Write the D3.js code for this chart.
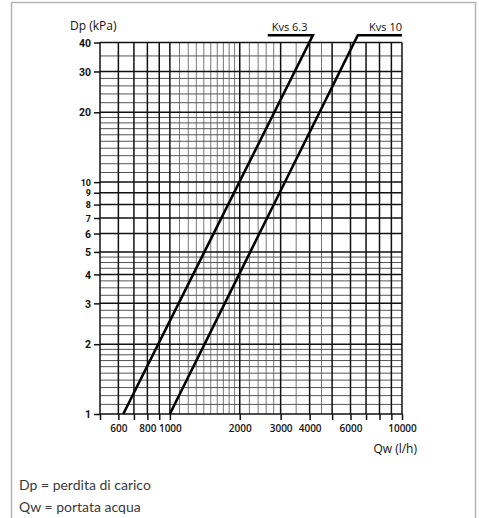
<!DOCTYPE html>
<html>
<head>
<meta charset="utf-8">
<script src="https://cdn.jsdelivr.net/npm/d3@7"></script>
<style>
  html, body { margin: 0; padding: 0; background: #fff; }
  svg { display: block; }
</style>
</head>
<body>
<div id="chart"></div>
<script>
// grid values (log paper)
const xMajor = [500, 600, 700, 800, 900, 1000, 2000, 3000, 4000, 5000, 6000, 7000, 8000, 9000, 10000];
const xMinor = [1100, 1200, 1300, 1400, 1500, 1600, 1700, 1800, 1900, 2200, 2400, 2600, 2800, 3500, 4500];
const xLabels = [600, 800, 1000, 2000, 3000, 4000, 6000, 10000];

const yMajor = [1, 2, 3, 4, 5, 6, 7, 8, 9, 10, 20, 30, 40];
const yMinor = [1.1, 1.2, 1.3, 1.4, 1.5, 1.6, 1.7, 1.8, 1.9, 2.2, 2.4, 2.6, 2.8,
  3.25, 3.5, 3.75, 4.25, 4.5, 4.75, 11, 12, 13, 14, 15, 16, 17, 18, 19, 22, 24, 26, 28, 35];
const ySmall = [7, 8, 9, 10];

// valve curves: [Qw l/h, Dp kPa], last point = end of label underline
const kvs63 = [[630, 1], [4130, 43], [2640, 43]];
const kvs10 = [[1000, 1], [6450, 43], [10000, 43]];
const curves = [
  { name: 'Kvs 6.3', points: kvs63, anchor: 'start' },
  { name: 'Kvs 10', points: kvs10, anchor: 'end' }
];

const notes = ['Dp = perdita di carico', 'Qw = portata acqua'];

const width = 479, height = 518;

const svg = d3.select('#chart')
  .append('svg')
  .attr('width', width)
  .attr('height', height);

svg.append('rect')
  .attr('x', 11.5).attr('y', 2.5)
  .attr('width', 464).attr('height', 530)
  .attr('fill', '#fff')
  .attr('stroke', '#b4b4b4')
  .attr('stroke-width', 1.5);

const x = d3.scaleLog().domain([500, 10000]).range([100, 402]);
const y = d3.scaleLog().domain([1, 40]).range([414, 42.5]);

const grid = svg.append('g').attr('class', 'grid');

// minor lines first
grid.selectAll('line.vmin')
  .data(xMinor)
  .enter().append('line')
  .attr('class', 'vmin')
  .attr('x1', d => x(d)).attr('x2', d => x(d))
  .attr('y1', y(1)).attr('y2', y(40))
  .attr('stroke', '#777')
  .attr('stroke-width', 1);

grid.selectAll('line.hmin')
  .data(yMinor)
  .enter().append('line')
  .attr('class', 'hmin')
  .attr('x1', x(500)).attr('x2', x(10000))
  .attr('y1', d => y(d)).attr('y2', d => y(d))
  .attr('stroke', '#555')
  .attr('stroke-width', 1);

grid.selectAll('line.vmaj')
  .data(xMajor)
  .enter().append('line')
  .attr('class', 'vmaj')
  .attr('x1', d => x(d)).attr('x2', d => x(d))
  .attr('y1', y(1)).attr('y2', y(40))
  .attr('stroke', '#111')
  .attr('stroke-width', 1.5);

grid.selectAll('line.hmaj')
  .data(yMajor)
  .enter().append('line')
  .attr('class', 'hmaj')
  .attr('x1', x(500)).attr('x2', x(10000))
  .attr('y1', d => y(d)).attr('y2', d => y(d))
  .attr('stroke', '#111')
  .attr('stroke-width', 1.5);

// axes
const yAxis = d3.axisLeft(y)
  .tickValues(yMajor)
  .tickSize(6)
  .tickPadding(3)
  .tickFormat(d3.format('d'));

const gy = svg.append('g')
  .attr('transform', `translate(${x(500)},0)`)
  .call(yAxis);

const xAxis = d3.axisBottom(x)
  .tickValues(xMajor)
  .tickSize(6)
  .tickPadding(5)
  .tickFormat(d => xLabels.includes(d) ? String(d) : '');

const gx = svg.append('g')
  .attr('transform', `translate(0,${y(1)})`)
  .call(xAxis);

[gx, gy].forEach(g => {
  g.select('.domain').remove();
  g.selectAll('.tick line').attr('stroke', '#111').attr('stroke-width', 1.5);
  g.selectAll('.tick text')
    .attr('fill', '#111')
    .style('font-family', '"Open Sans", sans-serif')
    .style('font-size', '10px')
    .style('font-weight', 600);
});

// y labels: tighter font, smaller where they crowd (7-10)
gy.selectAll('.tick text')
  .style('font-family', 'Roboto, sans-serif')
  .style('font-weight', 700)
  .style('font-size', d => ySmall.includes(d) ? '9px' : '10.5px')
  .attr('dy', '0.35em');

// axis titles
svg.append('text')
  .attr('x', 70).attr('y', 30)
  .text('Dp (kPa)')
  .style('font-family', '"Open Sans", sans-serif')
  .style('font-size', '12px')
  .attr('fill', '#111');

svg.append('text')
  .attr('x', 417).attr('y', 453)
  .attr('text-anchor', 'end')
  .text('Qw (l/h)')
  .style('font-family', '"Open Sans", sans-serif')
  .style('font-size', '12px')
  .attr('fill', '#111');

// Kvs curves
const line = d3.line()
  .x(d => x(d[0]))
  .y(d => y(d[1]));

const cg = svg.append('g').attr('class', 'curves');

cg.selectAll('path')
  .data(curves)
  .enter().append('path')
  .attr('d', d => line(d.points))
  .attr('fill', 'none')
  .attr('stroke', '#000')
  .attr('stroke-width', 2.6)
  .attr('stroke-linejoin', 'miter');

cg.selectAll('text')
  .data(curves)
  .enter().append('text')
  .attr('x', d => d.anchor === 'start' ? x(d.points[2][0]) + 4 : x(d.points[2][0]))
  .attr('y', d => y(d.points[2][1]) - 4)
  .attr('text-anchor', d => d.anchor)
  .text(d => d.name)
  .style('font-family', '"Open Sans", sans-serif')
  .style('font-size', '11px')
  .attr('fill', '#111');

// footnotes
svg.selectAll('text.note')
  .data(notes)
  .enter().append('text')
  .attr('class', 'note')
  .attr('x', 19)
  .attr('y', (d, i) => 490 + i * 22)
  .text(d => d)
  .style('font-family', 'Lato, "Open Sans", sans-serif')
  .style('font-size', '14px')
  .style('font-weight', 400)
  .attr('fill', '#3a3a3a');
</script>
</body>
</html>
